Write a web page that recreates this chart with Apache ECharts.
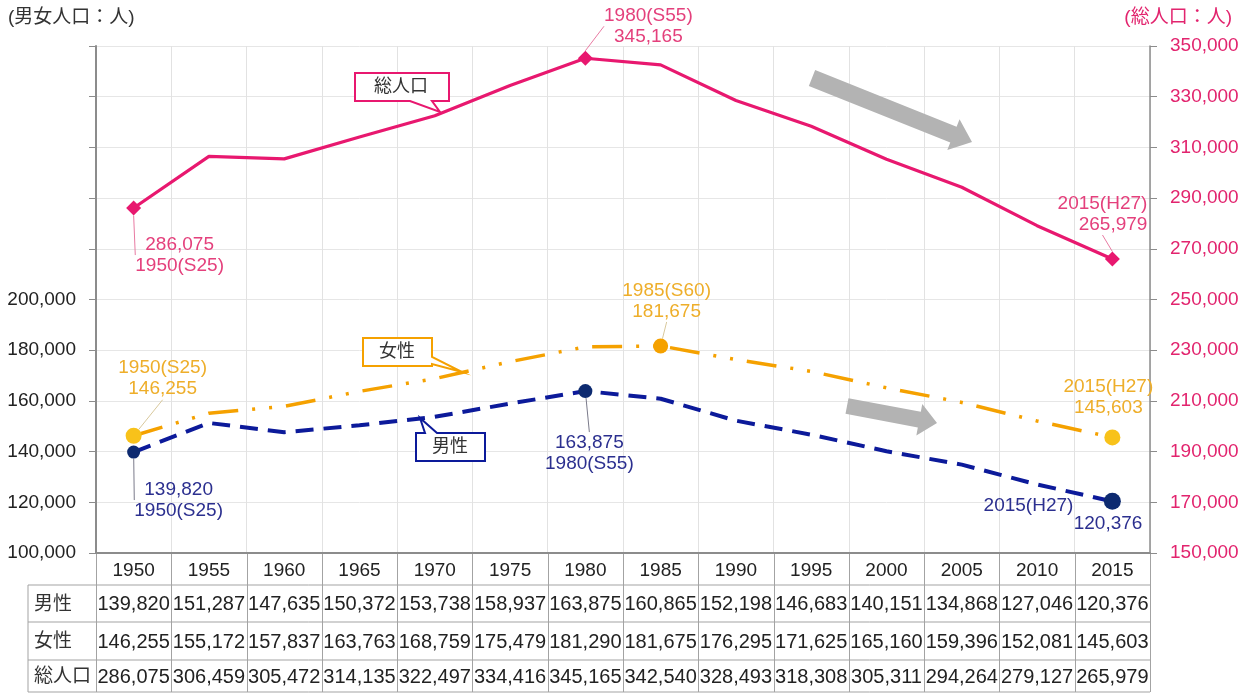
<!DOCTYPE html>
<html>
<head>
<meta charset="utf-8">
<script src="https://cdn.jsdelivr.net/npm/echarts@6/dist/echarts.min.js"></script>
<style>
html, body { margin: 0; padding: 0; background: #fff; }
#main { width: 1254px; height: 693px; }
</style>
</head>
<body>
<div id="main"></div>
<script>
// データ
var years = ['1950', '1955', '1960', '1965', '1970', '1975', '1980', '1985', '1990', '1995', '2000', '2005', '2010', '2015'];
var eras = ['S25', 'S30', 'S35', 'S40', 'S45', 'S50', 'S55', 'S60', 'H2', 'H7', 'H12', 'H17', 'H22', 'H27'];
var male = [139820, 151287, 147635, 150372, 153738, 158937, 163875, 160865, 152198, 146683, 140151, 134868, 127046, 120376];
var female = [146255, 155172, 157837, 163763, 168759, 175479, 181290, 181675, 176295, 171625, 165160, 159396, 152081, 145603];
var total = [286075, 306459, 305472, 314135, 322497, 334416, 345165, 342540, 328493, 318308, 305311, 294264, 279127, 265979];
var rowNames = ['男性', '女性', '総人口'];

// 軸の範囲
var leftAxis = [100000, 300000, 20000];
var leftLabelMax = 200000;
var rightAxis = [150000, 350000, 20000];

// 注記する点
var maleMarked = [0, 6, 13];
var femaleMarked = [0, 7, 13];
var totalMarked = [0, 6, 13];

var PINK = '#e8186f';
var ORANGE = '#f5a100';
var NAVY = '#0c1a9a';
var FONT = '"Liberation Sans", Arial, "Noto Sans CJK JP", sans-serif';

function fmt(n) { return n.toLocaleString('en-US'); }

// ラベル位置（マーカーからのずれ）
var place = {
    total: {
        0: { dx: 46, dy: 47, valueFirst: true },
        6: { dx: 63, dy: -32 },
        13: { dx: 35, dy: -45, align: 'right' }
    },
    female: {
        0: { dx: 29, dy: -57 },
        7: { dx: 6, dy: -45 },
        13: { dx: -4, dy: -40, noLine: true }
    },
    male: {
        0: { dx: 45, dy: 48, valueFirst: true },
        6: { dx: 4, dy: 62, valueFirst: true },
        13: { dx: 30, dy: 14, align: 'right', noLine: true, split: true }
    }
};

function buildData(values, marked, pl, symbol, sizes, colors, textColor) {
    return values.map(function (v, i) {
        var k = marked.indexOf(i);
        if (k < 0) return { value: v, symbol: 'none' };
        var p = pl[i];
        var yl = years[i] + '(' + eras[i] + ')';
        var label = {
            show: true,
            position: 'inside',
            color: textColor,
            fontSize: 19,
            lineHeight: 21,
            fontFamily: FONT,
            formatter: p.valueFirst ? fmt(v) + '\n' + yl : yl + '\n' + fmt(v)
        };
        if (p.align) label.align = p.align;
        if (p.split) {
            label.formatter = '{a|' + yl + '}\n{b|' + fmt(v) + '}';
            label.rich = {
                a: { color: textColor, fontSize: 19, fontFamily: FONT, lineHeight: 17, padding: [0, 69, 0, 0] },
                b: { color: textColor, fontSize: 19, fontFamily: FONT, lineHeight: 19 }
            };
        }
        return {
            value: v,
            symbol: symbol,
            symbolSize: sizes[k],
            itemStyle: { color: colors[k] },
            label: label,
            labelLine: { show: !p.noLine }
        };
    });
}

function layoutFn(pl) {
    return function (params) {
        var p = pl[params.dataIndex];
        if (!p) return {};
        return { dx: p.dx, dy: p.dy };
    };
}

var myChart = echarts.init(document.getElementById('main'));

var option = {
    animation: false,
    textStyle: { fontFamily: FONT },
    grid: { left: 96, right: 104, top: 46, bottom: 140 },
    xAxis: {
        type: 'category',
        data: years,
        boundaryGap: true,
        axisLine: { lineStyle: { color: '#8c8c8c', width: 2 } },
        axisTick: { show: false },
        splitLine: { show: true, lineStyle: { color: '#e2e2e2', width: 1 } },
        axisLabel: { color: '#222', fontSize: 19, margin: 8, fontFamily: FONT }
    },
    yAxis: [
        {
            type: 'value',
            min: leftAxis[0], max: leftAxis[1], interval: leftAxis[2],
            axisLine: { show: true, lineStyle: { color: '#8c8c8c', width: 2 } },
            axisTick: { show: true, length: 7, lineStyle: { color: '#8c8c8c' } },
            splitLine: { show: true, lineStyle: { color: '#e6e6e6' } },
            axisLabel: {
                color: '#222', fontSize: 19, margin: 20, fontFamily: FONT,
                formatter: function (v) { return v <= leftLabelMax ? fmt(v) : ''; }
            }
        },
        {
            type: 'value',
            position: 'right',
            min: rightAxis[0], max: rightAxis[1], interval: rightAxis[2],
            axisLine: { show: true, lineStyle: { color: '#8c8c8c', width: 1.5 } },
            axisTick: { show: true, length: 7, lineStyle: { color: '#8c8c8c' } },
            splitLine: { show: false },
            axisLabel: {
                color: '#e2246e', fontSize: 19, margin: 20, fontFamily: FONT,
                formatter: function (v) { return fmt(v); }
            }
        }
    ],
    series: [
        {
            name: '総人口',
            type: 'line',
            yAxisIndex: 1,
            data: buildData(total, totalMarked, place.total, 'diamond', [15, 15, 15], [PINK, PINK, PINK], '#e4407c'),
            lineStyle: { color: PINK, width: 3.2 },
            itemStyle: { color: PINK },
            labelLine: { show: true, lineStyle: { color: '#e87aa2', width: 1 } },
            labelLayout: layoutFn(place.total),
            z: 3
        },
        {
            name: '女性',
            type: 'line',
            yAxisIndex: 0,
            data: buildData(female, femaleMarked, place.female, 'circle', [16, 15, 16], ['#f8c21a', ORANGE, '#f8c21a'], '#eeae2a'),
            lineStyle: { color: ORANGE, width: 3.5, type: [30, 14, 3, 14, 3, 14] },
            itemStyle: { color: ORANGE },
            labelLine: { show: true, lineStyle: { color: '#d8c89c', width: 1 } },
            labelLayout: layoutFn(place.female),
            z: 2
        },
        {
            name: '男性',
            type: 'line',
            yAxisIndex: 0,
            data: buildData(male, maleMarked, place.male, 'circle', [13, 14, 17], ['#0d2a70', '#0d2a70', '#0d2a70'], '#2b2f8f'),
            lineStyle: { color: NAVY, width: 4, type: [18, 10] },
            itemStyle: { color: NAVY },
            labelLine: { show: true, lineStyle: { color: '#7a7a8a', width: 1 } },
            labelLayout: layoutFn(place.male),
            z: 2
        }
    ]
};

myChart.setOption(option);

// 表と注記
function arrowPts(x1, y1, x2, y2, sw, hw, hl) {
    var dx = x2 - x1, dy = y2 - y1, L = Math.sqrt(dx * dx + dy * dy);
    var ux = dx / L, uy = dy / L, nx = -uy, ny = ux;
    var bx = x2 - ux * hl, by = y2 - uy * hl;
    return [
        [x1 + nx * sw / 2, y1 + ny * sw / 2],
        [bx + nx * sw / 2, by + ny * sw / 2],
        [bx + nx * hw / 2, by + ny * hw / 2],
        [x2, y2],
        [bx - nx * hw / 2, by - ny * hw / 2],
        [bx - nx * sw / 2, by - ny * sw / 2],
        [x1 - nx * sw / 2, y1 - ny * sw / 2]
    ];
}

var g = [];
var c0 = myChart.convertToPixel({ xAxisIndex: 0 }, 0);
var c1 = myChart.convertToPixel({ xAxisIndex: 0 }, 1);
var band = c1 - c0;
var leftEdge = c0 - band / 2;
var rightEdge = leftEdge + band * years.length;
var rowTop = [585, 622, 660];
var rowBottom = 692;
var headTop = 553;
var tableLeft = 28;
var LINE = '#a3a3a3';

rowTop.concat([rowBottom]).forEach(function (y) {
    g.push({ type: 'line', shape: { x1: tableLeft, y1: y, x2: rightEdge, y2: y }, style: { stroke: LINE, lineWidth: 1 }, silent: true });
});
g.push({ type: 'line', shape: { x1: tableLeft, y1: rowTop[0], x2: tableLeft, y2: rowBottom }, style: { stroke: LINE, lineWidth: 1 } });
for (var k = 0; k <= years.length; k++) {
    var xx = Math.round(leftEdge + band * k) + 0.5;
    g.push({ type: 'line', shape: { x1: xx, y1: headTop, x2: xx, y2: rowBottom }, style: { stroke: LINE, lineWidth: 1 } });
}
var rows = [male, female, total];
rows.forEach(function (arr, r) {
    var yc = (rowTop[r] + (r < 2 ? rowTop[r + 1] : rowBottom)) / 2 + 1;
    g.push({ type: 'text', style: { text: rowNames[r], x: 34, y: yc, fill: '#333', font: '19px ' + FONT, align: 'left', verticalAlign: 'middle' } });
    arr.forEach(function (v, i) {
        var cx = myChart.convertToPixel({ xAxisIndex: 0 }, i);
        g.push({ type: 'text', style: { text: fmt(v), x: cx, y: yc, fill: '#222', font: '20px ' + FONT, align: 'center', verticalAlign: 'middle' } });
    });
});

// 単位
g.push({ type: 'text', style: { text: '(男女人口：人)', x: 8, y: 18, fill: '#333', font: '19px ' + FONT, verticalAlign: 'middle' } });
g.push({ type: 'text', style: { text: '(総人口：人)', x: 1232, y: 18, fill: '#e2246e', font: '19px ' + FONT, align: 'right', verticalAlign: 'middle' } });

// 矢印
g.push({ type: 'polygon', shape: { points: arrowPts(812, 78, 972, 142, 17, 33, 20) }, style: { fill: '#b3b3b3' }, z: 1 });
g.push({ type: 'polygon', shape: { points: arrowPts(847, 406, 937, 423, 16, 32, 18) }, style: { fill: '#b3b3b3' }, z: 1 });

// 吹き出し
function callout(points, color, text, tx, ty) {
    g.push({ type: 'polygon', shape: { points: points }, style: { fill: '#fff', stroke: color, lineWidth: 2 }, z: 100 });
    g.push({ type: 'text', style: { text: text, x: tx, y: ty, fill: '#333', font: '18px ' + FONT, align: 'center', verticalAlign: 'middle' }, z: 101 });
}
callout([[355, 73], [449, 73], [449, 101], [432, 101], [440, 112], [410, 101], [355, 101]], PINK, '総人口', 401, 87);
callout([[363, 338], [432, 338], [432, 357], [462, 372], [432, 364], [432, 366], [363, 366]], ORANGE, '女性', 397, 352);
callout([[416, 433], [425, 433], [420, 418], [437, 433], [485, 433], [485, 461], [416, 461]], NAVY, '男性', 450, 447);

myChart.setOption({ graphic: g });
</script>
</body>
</html>
